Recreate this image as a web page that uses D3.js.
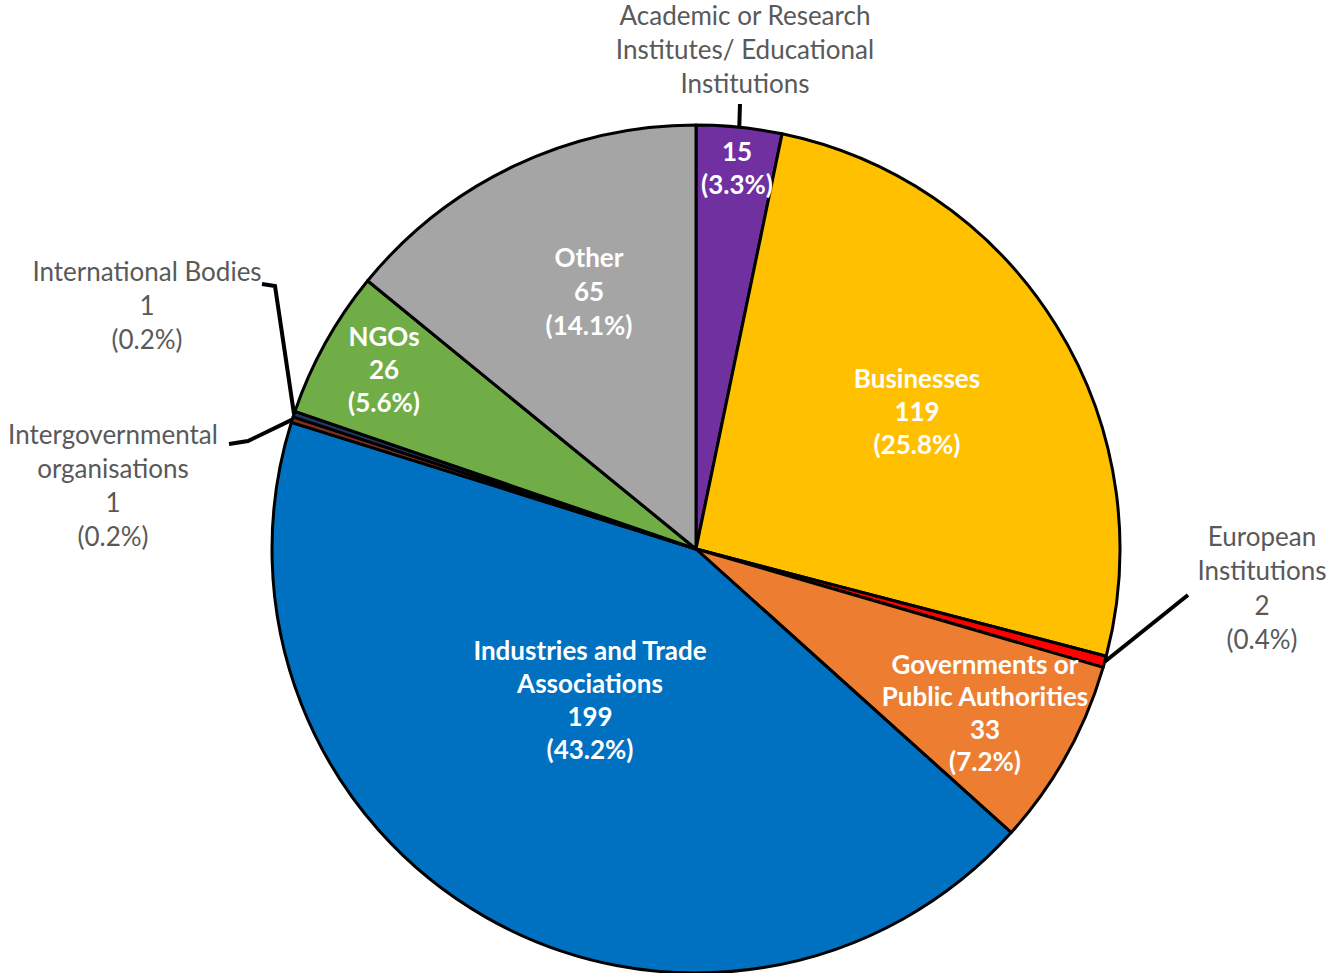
<!DOCTYPE html>
<meta charset="utf-8">
<style>
body { margin: 0; padding: 0; background: #fff; }
svg { display: block; }
.inner { font-family: Lato, "Open Sans", sans-serif; font-weight: bold; font-size: 26px; fill: #fff; }
.outer { font-family: Lato, "Open Sans", sans-serif; font-size: 26px; fill: #595959; }
</style>
<body>
<svg id="chart" width="1330" height="973"></svg>
<script src="https://cdnjs.cloudflare.com/ajax/libs/d3/7.8.5/d3.min.js"></script>
<script>

var categories = [
  "Academic or Research Institutes/ Educational Institutions",
  "Businesses",
  "European Institutions",
  "Governments or Public Authorities",
  "Industries and Trade Associations",
  "Intergovernmental organisations",
  "International Bodies",
  "NGOs",
  "Other"
];
var values = [15, 119, 2, 33, 199, 1, 1, 26, 65];
var colors = ["#7030A0", "#FFC000", "#FF0000", "#ED7D31", "#0070C0", "#7F2F20", "#1F3864", "#70AD47", "#A5A5A5"];

// how the category name is broken in the label
var nameLines = [
  ["Academic or Research", "Institutes/ Educational", "Institutions"],
  ["Businesses"],
  ["European", "Institutions"],
  ["Governments or", "Public Authorities"],
  ["Industries and Trade", "Associations"],
  ["Intergovernmental", "organisations"],
  ["International Bodies"],
  ["NGOs"],
  ["Other"]
];

// label placement (layout only)
var labelLayout = [
  {x: 745, y: 16, dy: 34, cls: "outer", valueInside: {x: 737, y: 152, dy: 33}, leader: [[740, 104]]},
  {x: 917, y: 379, dy: 33, cls: "inner"},
  {x: 1262, y: 537, dy: 34.3, cls: "outer", leader: [[1188, 595]]},
  {x: 985, y: 665, dy: 32.3, cls: "inner"},
  {x: 590, y: 651, dy: 33, cls: "inner"},
  {x: 113, y: 435, dy: 34, cls: "outer", leader: [[248, 441], [229, 444]]},
  {x: 147, y: 272, dy: 34, cls: "outer", leader: [[275, 286], [262, 284]]},
  {x: 384, y: 337, dy: 33, cls: "inner"},
  {x: 589, y: 258, dy: 34, cls: "inner"}
];

var cx = 696, cy = 549, radius = 424;
var total = d3.sum(values);

var svg = d3.select("#chart");
var g = svg.append("g").attr("transform", "translate(" + cx + "," + cy + ")");

var pie = d3.pie().sort(null).value(function(d) { return d; });
var arcs = pie(values);
var arc = d3.arc().innerRadius(0).outerRadius(radius);

g.selectAll("path.slice")
  .data(arcs)
  .enter().append("path")
  .attr("class", "slice")
  .attr("d", arc)
  .attr("fill", function(d, i) { return colors[i]; })
  .attr("stroke", "#000")
  .attr("stroke-width", 3)
  .attr("stroke-linejoin", "round");

// leader lines
arcs.forEach(function(d, i) {
  var lay = labelLayout[i];
  if (!lay.leader) return;
  var mid = (d.startAngle + d.endAngle) / 2;
  var pts = [[Math.sin(mid) * radius, -Math.cos(mid) * radius]];
  lay.leader.forEach(function(p) { pts.push([p[0] - cx, p[1] - cy]); });
  g.append("path")
    .attr("d", d3.line()(pts))
    .attr("fill", "none")
    .attr("stroke", "#000")
    .attr("stroke-width", 4);
});

function pct(v) { return "(" + (v / total * 100).toFixed(1) + "%)"; }

function writeLines(lines, x, y, dy, cls) {
  var t = svg.append("text").attr("class", cls).attr("text-anchor", "middle");
  lines.forEach(function(s, k) {
    t.append("tspan").attr("x", x).attr("y", y + k * dy).attr("dy", "0.35em").text(s);
  });
}

values.forEach(function(v, i) {
  var lay = labelLayout[i];
  var valLines = [String(v), pct(v)];
  if (lay.valueInside) {
    writeLines(nameLines[i], lay.x, lay.y, lay.dy, lay.cls);
    writeLines(valLines, lay.valueInside.x, lay.valueInside.y, lay.valueInside.dy, "inner");
  } else {
    writeLines(nameLines[i].concat(valLines), lay.x, lay.y, lay.dy, lay.cls);
  }
});

</script>
</body>
